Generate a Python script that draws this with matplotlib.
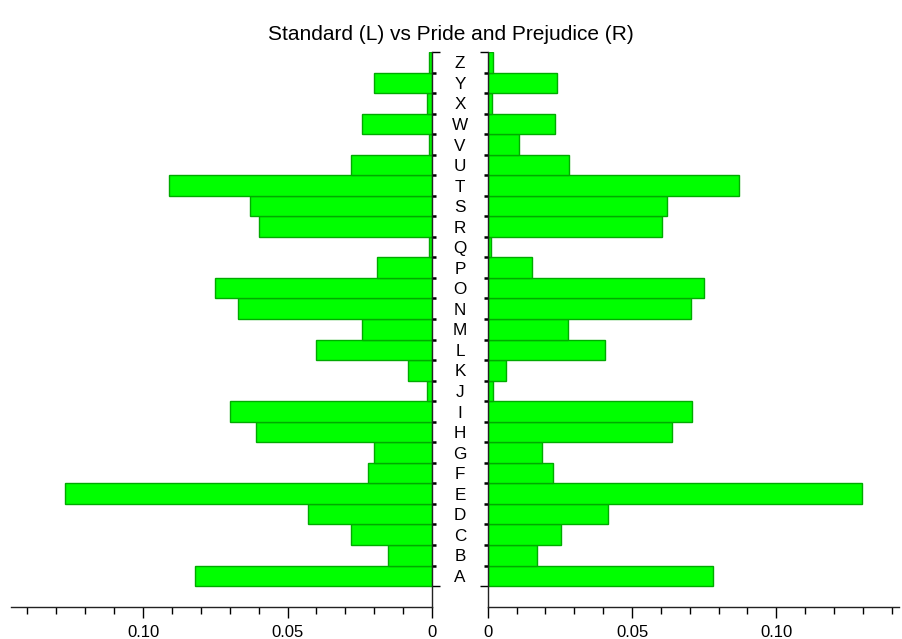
import matplotlib.pyplot as plt
import matplotlib.transforms as mtransforms
import numpy as np

plt.rcParams['font.family'] = ['Liberation Sans', 'DejaVu Sans']

letters = list('ABCDEFGHIJKLMNOPQRSTUVWXYZ')

# relative letter frequencies
standard = [0.0819, 0.0151, 0.0280, 0.0430, 0.1269, 0.0220, 0.0201, 0.0610,
            0.0699, 0.0017, 0.0082, 0.0400, 0.0241, 0.0670, 0.0750, 0.0191,
            0.0010, 0.0600, 0.0630, 0.0909, 0.0280, 0.0011, 0.0241, 0.0019,
            0.0201, 0.0010]
pride = [0.0779, 0.0171, 0.0253, 0.0417, 0.1296, 0.0225, 0.0188, 0.0637,
         0.0708, 0.0017, 0.0062, 0.0405, 0.0277, 0.0704, 0.0749, 0.0155,
         0.0013, 0.0603, 0.0620, 0.0872, 0.0281, 0.0108, 0.0232, 0.0016,
         0.0239, 0.0018]

title = 'Standard (L) vs Pride and Prejudice (R)'

W, H = 902, 639
fig = plt.figure(figsize=(W / 100, H / 100), dpi=100)

bottom, top = 607, 52
axl = fig.add_axes([11 / W, (H - bottom) / H, (432 - 11) / W, (bottom - top) / H])
axr = fig.add_axes([487.7 / W, (H - bottom) / H, (899 - 487.7) / W, (bottom - top) / H])

y = np.arange(len(letters))
bar_kw = dict(height=1.0, color='#00ff00', edgecolor='#00aa00', linewidth=1.0)
axl.barh(y, standard, **bar_kw)
axr.barh(y, pride, **bar_kw)

axl.set_xlim(0.1457, 0)
axr.set_xlim(0, 0.1425)

for ax, hide in ((axl, ('left', 'top')), (axr, ('right', 'top'))):
    ax.set_ylim(-1.52, 25.5)
    for s in hide:
        ax.spines[s].set_visible(False)
    for s in ax.spines.values():
        s.set_linewidth(1.0)
        s.set_color('#222222')
    ax.set_yticks([-0.5, 25.5])
    ax.set_yticks(np.arange(0.5, 25, 1.0), minor=True)
    ax.set_yticklabels([])
    ax.set_xticks([0, 0.05, 0.10])
    ax.set_xticklabels(['0', '0.05', '0.10'])
    ax.set_xticks(np.arange(0.01, 0.145, 0.01), minor=True)
    ax.tick_params(axis='y', which='major', length=6, width=1.0, direction='out')
    ax.tick_params(axis='y', which='minor', length=3, width=1.8, direction='out')
    ax.tick_params(axis='x', which='major', length=8, width=1.0, labelsize=12, pad=5)
    ax.tick_params(axis='x', which='minor', length=5, width=1.0)

axl.yaxis.tick_right()
axr.yaxis.tick_left()

# letter labels in the central gap, capitals centred on each row
trans = mtransforms.blended_transform_factory(fig.transFigure, axl.transData)
trans = trans + mtransforms.ScaledTranslation(0, -6.1 / 100, fig.dpi_scale_trans)
for i, ch in enumerate(letters):
    axl.text(460 / W, i, ch, transform=trans, ha='center', va='baseline',
             fontsize=12.3, clip_on=False)

fig.text(451 / W, 1 - 35 / H, title, ha='center', va='center', fontsize=15)

fig.savefig('out.png', dpi=100)
